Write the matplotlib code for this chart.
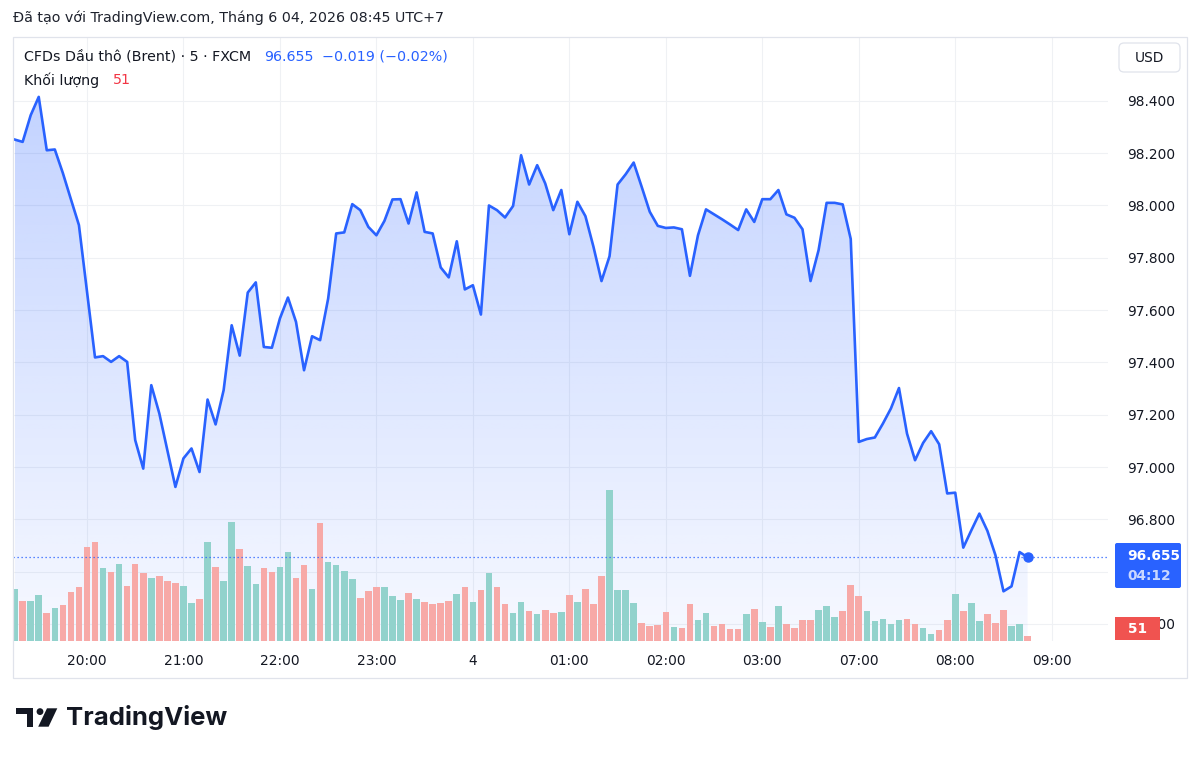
import numpy as np
import matplotlib
matplotlib.use("Agg")
import matplotlib.pyplot as plt
from matplotlib.patches import Rectangle, FancyBboxPatch, Polygon, Circle
import matplotlib.transforms as mtransforms
from matplotlib.colors import to_rgb

plt.rcParams['font.family'] = ['DejaVu Sans']

# ---------------- data ----------------
start_index = -9  # first bar, counted in bars from 20:00

price = [98.252, 98.243, 98.345, 98.415, 98.211, 98.214, 98.124, 98.024, 97.925, 97.672,
         97.419, 97.424, 97.402, 97.424, 97.402, 97.103, 96.994, 97.313, 97.205, 97.064,
         96.924, 97.033, 97.071, 96.981, 97.258, 97.163, 97.294, 97.542, 97.426, 97.667,
         97.706, 97.459, 97.456, 97.568, 97.648, 97.555, 97.370, 97.500, 97.485, 97.644,
         97.893, 97.897, 98.005, 97.982, 97.918, 97.886, 97.941, 98.023, 98.024, 97.931,
         98.050, 97.899, 97.893, 97.763, 97.725, 97.863, 97.679, 97.695, 97.583, 98.000,
         97.982, 97.954, 97.998, 98.192, 98.080, 98.154, 98.084, 97.982, 98.059, 97.890,
         98.014, 97.959, 97.842, 97.711, 97.806, 98.080, 98.119, 98.164, 98.071, 97.976,
         97.922, 97.914, 97.916, 97.909, 97.731, 97.886, 97.985, 97.966, 97.947, 97.927,
         97.906, 97.985, 97.937, 98.024, 98.024, 98.059, 97.966, 97.953, 97.909, 97.711,
         97.829, 98.010, 98.010, 98.004, 97.872, 97.096, 97.107, 97.113, 97.166, 97.224,
         97.302, 97.128, 97.026, 97.092, 97.137, 97.087, 96.899, 96.902, 96.692, 96.758,
         96.822, 96.756, 96.663, 96.525, 96.544, 96.675, 96.655]

volume = [561, 434, 434, 502, 307, 358, 387, 532, 583, 1017,
          1077, 795, 745, 832, 593, 832, 735, 680, 708, 648,
          629, 593, 416, 456, 1077, 803, 651, 1288, 998, 814,
          622, 795, 745, 803, 969, 687, 821, 561, 1280, 854,
          821, 756, 669, 467, 543, 589, 589, 492, 445, 524,
          456, 426, 398, 416, 437, 513, 589, 426, 553, 735,
          583, 398, 301, 426, 329, 290, 340, 301, 311, 496,
          426, 561, 398, 708, 1642, 553, 553, 416, 192, 163,
          174, 311, 155, 144, 398, 231, 301, 163, 184, 133,
          127, 290, 350, 203, 157, 376, 184, 144, 225, 225,
          340, 376, 264, 329, 611, 485, 322, 214, 242, 184,
          231, 242, 184, 138, 76, 116, 231, 513, 329, 416,
          214, 290, 192, 340, 166, 184, 51]

# t = up bar (teal), r = down bar (red)
direction = ("trttrtrrrr" "rtrtrrrtrr" "rttrtrttrt" "trrttrrtrt" "tttrrrtttr"
             "trrrrtrtrt" "rrttrtrrtr" "trrrttttrr" "rrtrrttrrr" "rtrtrtrrrr"
             "tttrrrtttt" "trrttrrtrt" "trrrttr")

time_tick_pos = [0, 12, 24, 36, 48, 60, 72, 84, 96, 108, 120]
time_tick_labels = ['20:00', '21:00', '22:00', '23:00', '4', '01:00', '02:00',
                    '03:00', '07:00', '08:00', '09:00']
price_ticks = [96.4, 96.6, 96.8, 97.0, 97.2, 97.4, 97.6, 97.8, 98.0, 98.2, 98.4]
hidden_price_labels = [96.6]   # covered by the last-price tag in the original

last_price = 96.655
last_volume = 51
change_text = "\u22120.019 (\u22120.02%)"

# ---------------- styles ----------------
BLUE = '#2962ff'
TEAL = '#92d2cc'
RED = '#f7a9a7'
TXT = '#131722'
GRID = '#eff1f4'
FS = 9.9
FS_HEAD = 10.3

W, H = 1200, 759
fig = plt.figure(figsize=(W / 100, H / 100), dpi=100)
fig.patch.set_facecolor('white')

L, R, T, B = 13, 1108, 37, 641
rect = [L / W, 1 - B / H, (R - L) / W, (B - T) / H]
ax = fig.add_axes(rect)
ax.set_facecolor('white')

idx = np.arange(len(price)) + start_index
p = np.array(price)
xlim = (-9.2, 127.0)
ylim = (96.335, 98.644)

# gradient area under the line
poly = ax.fill_between(idx, p, ylim[0], facecolor='none', edgecolor='none')
n = 256
alpha = np.linspace(0.04, 0.28, n)
rgb = to_rgb(BLUE)
img = np.zeros((n, 2, 4))
img[..., 0], img[..., 1], img[..., 2] = rgb
img[..., 3] = alpha[:, None]
im = ax.imshow(img, extent=[idx[0], idx[-1], ylim[0], p.max()], origin='lower',
               aspect='auto', zorder=1, interpolation='bilinear')
im.set_clip_path(poly.get_paths()[0], transform=ax.transData)

ax.plot(idx, p, color=BLUE, lw=1.9, zorder=3, solid_joinstyle='round')

ax.set_xlim(*xlim)
ax.set_ylim(*ylim)
ax.grid(True, color=GRID, lw=0.8, zorder=0)
ax.set_axisbelow(True)
for s in ax.spines.values():
    s.set_visible(False)

# volume pane on top (transparent)
axv = ax.twinx()
axv.set_ylim(0, 6550)
axv.yaxis.set_visible(False)
for s in axv.spines.values():
    s.set_visible(False)
colors = [TEAL if d == 't' else RED for d in direction]
axv.bar(idx, volume, width=0.82, color=colors, zorder=2)
axv.set_xlim(*xlim)

# ticks (after twinx, which moves the price ticks to the left)
ax.set_xticks(time_tick_pos)
ax.set_xticklabels(time_tick_labels)
ax.set_yticks(price_ticks)
ax.set_yticklabels(["" if v in hidden_price_labels else f"{v:.3f}" for v in price_ticks])
ax.yaxis.tick_right()
ax.yaxis.set_label_position('right')
ax.tick_params(axis='x', length=0, pad=9.5, labelsize=FS, labelcolor=TXT)
ax.tick_params(axis='y', which='both', length=0, pad=13.5, labelsize=FS, labelcolor=TXT,
               labelright=True, labelleft=False, right=True, left=False)

# dotted last price line and end marker (price coords)
blend = mtransforms.blended_transform_factory(axv.transAxes, ax.transData)
axv.plot([0, 1], [last_price, last_price], transform=blend, color=BLUE,
         lw=0.9, ls=(0, (1, 2.2)), zorder=4)
axv.plot([idx[-1]], [p[-1]], 'o', ms=6.5, color=BLUE, transform=ax.transData, zorder=5)

# ---------------- overlay (pixel coordinates) ----------------
ov = fig.add_axes([0, 0, 1, 1], zorder=10)
ov.set_xlim(0, W)
ov.set_ylim(H, 0)
ov.axis('off')
ov.patch.set_alpha(0)

# widget border
ov.add_patch(Rectangle((13, 37), 1174, 641, fill=False, ec='#e0e3eb', lw=0.9))

# header
ov.text(13, 18, "Đã tạo với TradingView.com, Tháng 6 04, 2026 08:45 UTC+7",
        fontsize=FS_HEAD, color='#1e222d', va='center', ha='left')

ov.text(24, 57, "CFDs Dầu thô (Brent) · 5 · FXCM", fontsize=FS_HEAD, color=TXT,
        va='center', ha='left')
ov.text(264, 57, f"{last_price:.3f}", fontsize=FS_HEAD, color=BLUE, va='center', ha='left')
ov.text(322, 57, change_text, fontsize=FS_HEAD, color=BLUE, va='center', ha='left')
ov.text(24, 80, "Khối lượng", fontsize=FS_HEAD, color=TXT, va='center', ha='left')
ov.text(113, 80, f"{last_volume}", fontsize=FS_HEAD, color='#f23645', va='center', ha='left')

# USD button
ov.add_patch(FancyBboxPatch((1119, 43), 61, 29, boxstyle='round,pad=0,rounding_size=5',
                            fc='white', ec='#e0e3eb', lw=0.9))
ov.text(1149.5, 58, "USD", fontsize=FS, color=TXT, va='center', ha='center')

# last price tag
ov.add_patch(FancyBboxPatch((1115, 543), 66, 45, boxstyle='round,pad=0,rounding_size=2',
                            fc=BLUE, ec='none'))
ov.text(1127, 556, f"{last_price:.3f}", fontsize=FS, color='white', weight='bold',
        va='center', ha='left')
ov.text(1127, 576, "04:12", fontsize=FS, color='#c9d7ff', weight='bold',
        va='center', ha='left')

# volume tag
ov.add_patch(Rectangle((1115, 617), 45, 23, fc='#f05350', ec='none'))
ov.text(1137.5, 629, f"{last_volume}", fontsize=FS, color='white', weight='bold',
        va='center', ha='center')

# TradingView logo
ov.add_patch(Rectangle((16, 708.3), 17.3, 5.8, fc='#131722', ec='none'))
ov.add_patch(Rectangle((26.5, 708.3), 6.8, 18.4, fc='#131722', ec='none'))
ov.add_patch(Circle((40.0, 711.6), 3.4, fc='#131722', ec='none'))
ov.add_patch(Polygon([(47.0, 708.3), (57.3, 708.3), (48.6, 726.7), (38.2, 726.7)],
                     closed=True, fc='#131722', ec='none'))
ov.text(66, 718, "TradingView", fontsize=18.5, weight='bold', color='#131722',
        va='center', ha='left', family=['Inter', 'DejaVu Sans'])

fig.savefig('out.png', dpi=100, facecolor='white')
